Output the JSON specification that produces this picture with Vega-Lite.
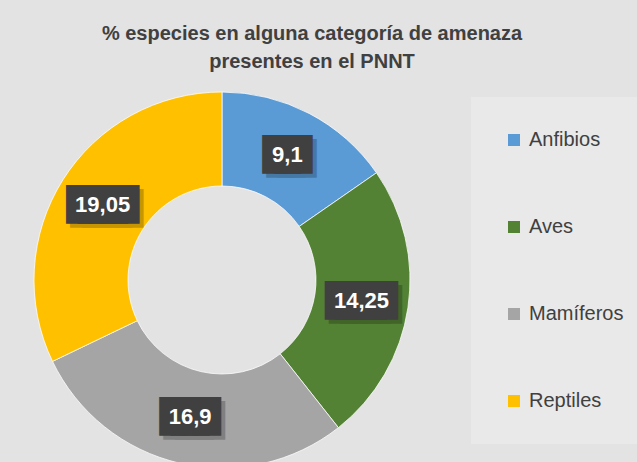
{
  "$schema": "https://vega.github.io/schema/vega-lite/v6.json",
  "width": 444,
  "height": 364,
  "autosize": {"type": "none"},
  "padding": {"left": 0, "top": 98, "right": 193, "bottom": 0},
  "background": "#e3e3e3",
  "title": {
    "text": ["% especies en alguna categoría de amenaza", "presentes en el PNNT"],
    "anchor": "middle",
    "frame": "group",
    "dx": 90,
    "offset": 19,
    "font": "Liberation Sans, Arial, sans-serif",
    "fontSize": 20,
    "fontWeight": "bold",
    "color": "#404040",
    "lineHeight": 28
  },
  "data": {
    "values": [
      {"grupo": "Anfibios", "valor": 9.1, "etiqueta": "9,1"},
      {"grupo": "Aves", "valor": 14.25, "etiqueta": "14,25"},
      {"grupo": "Mamíferos", "valor": 16.9, "etiqueta": "16,9"},
      {"grupo": "Reptiles", "valor": 19.05, "etiqueta": "19,05"}
    ]
  },
  "encoding": {
    "theta": {"field": "valor", "type": "quantitative", "stack": true},
    "order": {"field": "grupo", "type": "ordinal"}
  },
  "layer": [
    {
      "mark": {"type": "arc", "outerRadius": 188, "innerRadius": 94, "stroke": "#ffffff", "strokeWidth": 0.75},
      "encoding": {
        "color": {
          "field": "grupo",
          "type": "nominal",
          "scale": {
            "domain": ["Anfibios", "Aves", "Mamíferos", "Reptiles"],
            "range": ["#5B9BD5", "#548235", "#A5A5A5", "#FFC000"]
          },
          "legend": {
            "orient": "none",
            "legendX": 471,
            "legendY": -1,
            "title": null,
            "fillColor": "#e9e9e9",
            "padding": 33,
            "rowPadding": 67,
            "symbolType": "square",
            "symbolSize": 144,
            "symbolStrokeWidth": 0,
            "labelFontSize": 20,
            "labelFont": "Liberation Sans, Arial, sans-serif",
            "labelColor": "#404040",
            "labelOffset": 5,
            "labelLimit": 200
          }
        }
      }
    },
    {
      "mark": {
        "type": "text", "radius": 141, "font": "DejaVu Sans Mono", "fontSize": 19,
        "fill": "#000000", "stroke": "#000000", "strokeWidth": 16, "strokeJoin": "miter",
        "opacity": 0.22, "dx": 4, "dy": 4, "align": "center", "baseline": "middle"
      },
      "encoding": {
        "detail": {"field": "grupo"},
        "text": {
          "condition": [
            {"test": "length(datum.etiqueta) <= 3", "value": "███"},
            {"test": "length(datum.etiqueta) == 4", "value": "████"}
          ],
          "value": "█████"
        }
      }
    },
    {
      "mark": {
        "type": "text", "radius": 141, "font": "DejaVu Sans Mono", "fontSize": 19,
        "fill": "#404040", "stroke": "#404040", "strokeWidth": 16, "strokeJoin": "miter",
        "align": "center", "baseline": "middle"
      },
      "encoding": {
        "detail": {"field": "grupo"},
        "text": {
          "condition": [
            {"test": "length(datum.etiqueta) <= 3", "value": "███"},
            {"test": "length(datum.etiqueta) == 4", "value": "████"}
          ],
          "value": "█████"
        }
      }
    },
    {
      "mark": {
        "type": "text", "radius": 141,
        "font": "Liberation Sans, Arial, sans-serif",
        "fontSize": 22, "fontWeight": "bold", "fill": "#ffffff",
        "align": "center", "baseline": "middle"
      },
      "encoding": {
        "detail": {"field": "grupo"},
        "text": {"field": "etiqueta", "type": "nominal"}
      }
    }
  ],
  "config": {"view": {"stroke": null}}
}
